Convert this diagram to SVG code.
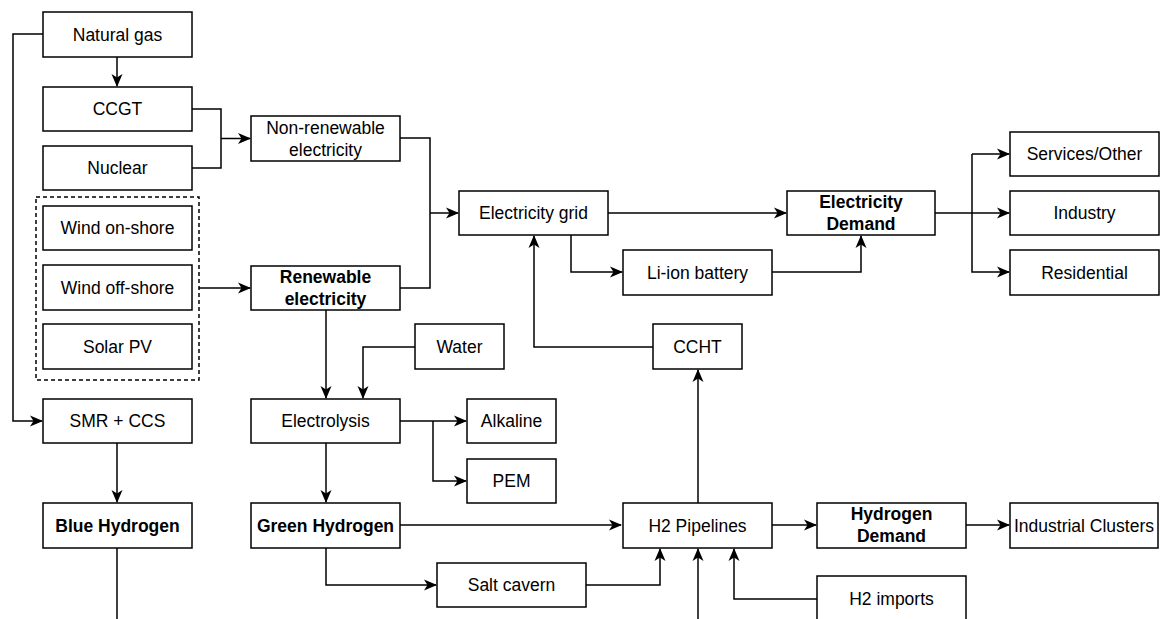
<svg xmlns="http://www.w3.org/2000/svg" width="1160" height="619" viewBox="0 0 1160 619">
<style>
.n rect{fill:#fff;stroke:#000;stroke-width:1.5}
text{font-family:"Liberation Sans",Arial,Helvetica,sans-serif;font-size:17.5px;fill:#000;text-anchor:middle;dominant-baseline:central}
.b text{font-weight:bold}
.c path{fill:none;stroke:#000;stroke-width:1.5}
.c path.a{marker-end:url(#ar)}
</style>
<defs>
<marker id="ar" viewBox="0 0 13 12" refX="12" refY="6" markerWidth="13" markerHeight="12" markerUnits="userSpaceOnUse" orient="auto">
<path d="M0,0.5 L13,6 L0,11.5 L3.5,6 z" fill="#000"/>
</marker>
</defs>
<g class="c" id="connectors">
<path class="a" d="M43,34 H13 V421 H42"/>
<path class="a" d="M117,57 V86"/>
<path d="M192,109 H221 V168 H192"/>
<path class="a" d="M221,138.5 H250"/>
<path class="a" d="M199,288 H250"/>
<path d="M400,138 H430 V288 H400"/>
<path class="a" d="M430,213 H458"/>
<path class="a" d="M608,213 H786"/>
<path class="a" d="M571,235 V272 H622"/>
<path class="a" d="M772,272 H861 V236"/>
<path class="a" d="M653,347 H534 V236"/>
<path d="M935,213 H972"/>
<path class="a" d="M972,213 H1009"/>
<path class="a" d="M972,154 V272 H1009"/>
<path class="a" d="M972,154 H1009"/>
<path class="a" d="M326,310 V398"/>
<path class="a" d="M415,347 H363 V398"/>
<path class="a" d="M400,421 H466"/>
<path class="a" d="M433,421 V481 H466"/>
<path class="a" d="M326,443 V502"/>
<path class="a" d="M117,443 V502"/>
<path d="M117,548 V619"/>
<path class="a" d="M400,525 H621"/>
<path class="a" d="M326,548 V585 H436"/>
<path class="a" d="M586,585 H660 V549"/>
<path class="a" d="M698,619 V549"/>
<path class="a" d="M817,599 H734 V549"/>
<path class="a" d="M698,503 V370"/>
<path class="a" d="M772,525 H816"/>
<path class="a" d="M966,525 H1009"/>
</g>
<rect x="36" y="197" width="163" height="183" fill="none" stroke="#000" stroke-width="1.5" stroke-dasharray="4,3"/>
<g class="n" id="natural-gas"><rect x="43" y="12" width="149" height="45"/><text x="117.5" y="34.5">Natural gas</text></g>
<g class="n" id="ccgt"><rect x="43" y="87" width="149" height="44"/><text x="117.5" y="109">CCGT</text></g>
<g class="n" id="nuclear"><rect x="43" y="146" width="149" height="44"/><text x="117.5" y="168">Nuclear</text></g>
<g class="n" id="wind-onshore"><rect x="43" y="206" width="149" height="44"/><text x="117.5" y="228">Wind on-shore</text></g>
<g class="n" id="wind-offshore"><rect x="43" y="265" width="149" height="45"/><text x="117.5" y="287.5">Wind off-shore</text></g>
<g class="n" id="solar-pv"><rect x="43" y="324" width="149" height="45"/><text x="117.5" y="346.5">Solar PV</text></g>
<g class="n" id="smr-ccs"><rect x="43" y="399" width="149" height="44"/><text x="117.5" y="421">SMR + CCS</text></g>
<g class="n b" id="blue-hydrogen"><rect x="43" y="503" width="149" height="45"/><text x="117.5" y="525.5">Blue Hydrogen</text></g>
<g class="n" id="non-renewable"><rect x="251" y="116" width="149" height="45"/><text x="325.5" y="128">Non-renewable</text><text x="325.5" y="150">electricity</text></g>
<g class="n b" id="renewable"><rect x="251" y="266" width="149" height="44"/><text x="325.5" y="277">Renewable</text><text x="325.5" y="299">electricity</text></g>
<g class="n" id="electrolysis"><rect x="251" y="399" width="149" height="44"/><text x="325.5" y="421">Electrolysis</text></g>
<g class="n b" id="green-hydrogen"><rect x="251" y="503" width="149" height="45"/><text x="325.5" y="525.5">Green Hydrogen</text></g>
<g class="n" id="water"><rect x="415" y="324" width="89" height="45"/><text x="459.5" y="346.5">Water</text></g>
<g class="n" id="alkaline"><rect x="467" y="399" width="89" height="44"/><text x="511.5" y="421">Alkaline</text></g>
<g class="n" id="pem"><rect x="467" y="459" width="89" height="44"/><text x="511.5" y="481">PEM</text></g>
<g class="n" id="salt-cavern"><rect x="437" y="563" width="149" height="44"/><text x="511.5" y="585">Salt cavern</text></g>
<g class="n" id="electricity-grid"><rect x="459" y="191" width="149" height="44"/><text x="533.5" y="213">Electricity grid</text></g>
<g class="n" id="li-ion"><rect x="623" y="250" width="149" height="45"/><text x="697.5" y="272.5">Li-ion battery</text></g>
<g class="n" id="ccht"><rect x="653" y="324" width="89" height="45"/><text x="697.5" y="346.5">CCHT</text></g>
<g class="n" id="h2-pipelines"><rect x="623" y="503" width="149" height="45"/><text x="697.5" y="525.5">H2 Pipelines</text></g>
<g class="n b" id="electricity-demand"><rect x="787" y="191" width="148" height="44"/><text x="861" y="202">Electricity</text><text x="861" y="224">Demand</text></g>
<g class="n b" id="hydrogen-demand"><rect x="817" y="503" width="149" height="45"/><text x="891.5" y="514">Hydrogen</text><text x="891.5" y="536">Demand</text></g>
<g class="n" id="h2-imports"><rect x="817" y="576" width="149" height="45"/><text x="891.5" y="598.5">H2 imports</text></g>
<g class="n" id="services"><rect x="1010" y="132" width="149" height="44"/><text x="1084.5" y="154">Services/Other</text></g>
<g class="n" id="industry"><rect x="1010" y="191" width="149" height="44"/><text x="1084.5" y="213">Industry</text></g>
<g class="n" id="residential"><rect x="1010" y="250" width="149" height="45"/><text x="1084.5" y="272.5">Residential</text></g>
<g class="n" id="industrial-clusters"><rect x="1010" y="503" width="148" height="45"/><text x="1084" y="525.5">Industrial Clusters</text></g>
</svg>
